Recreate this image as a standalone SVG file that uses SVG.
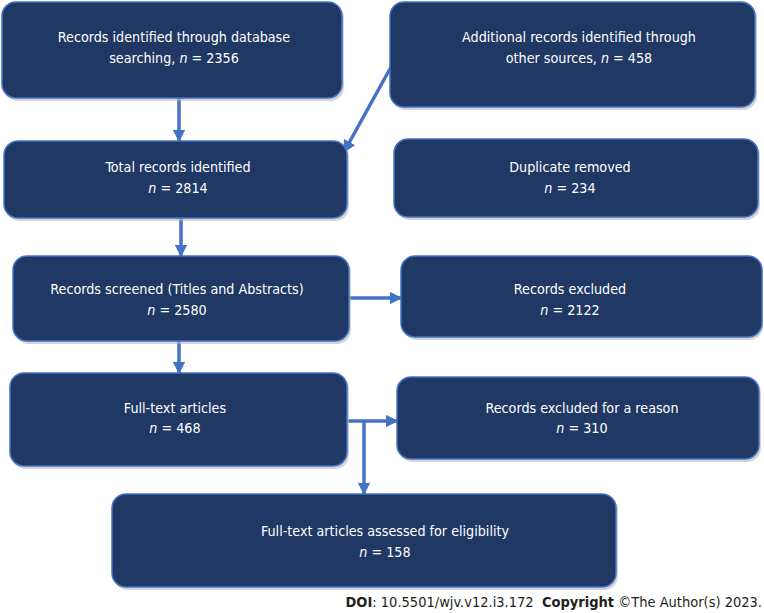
<svg xmlns="http://www.w3.org/2000/svg" width="764" height="613" viewBox="0 0 764 613">
<defs>
<style>
.box{fill:#203864;stroke:#4472C4;stroke-width:1.5}
.sh{fill:#b8b8b8;opacity:0.6}
.t{font-family:"DejaVu Sans Condensed","DejaVu Sans",sans-serif;font-size:14.2px;fill:#ffffff;text-anchor:middle}
.i{font-style:italic}
.c{stroke:#4472C4;stroke-width:3.5;fill:none}
.foot{font-family:"DejaVu Sans Condensed","DejaVu Sans",sans-serif;font-size:14.5px;fill:#231f20}
.b{font-weight:bold}
</style>
<marker id="ah" viewBox="0 0 10 10" refX="9" refY="5" markerWidth="3.6" markerHeight="3.6" orient="auto" markerUnits="strokeWidth">
<path d="M0,0 L10,5 L0,10 z" fill="#4472C4"/>
</marker>
</defs>
<rect width="764" height="613" fill="#ffffff"/>
<g id="connectors">
<line class="c" x1="179" y1="98" x2="179" y2="141" marker-end="url(#ah)"/>
<line class="c" x1="391" y1="67" x2="344" y2="152" marker-end="url(#ah)"/>
<line class="c" x1="181" y1="218" x2="181" y2="256" marker-end="url(#ah)"/>
<line class="c" x1="349" y1="298" x2="401" y2="298" marker-end="url(#ah)"/>
<line class="c" x1="179" y1="341" x2="179" y2="373" marker-end="url(#ah)"/>
<line class="c" x1="347" y1="421" x2="397" y2="421" marker-end="url(#ah)"/>
<line class="c" x1="364" y1="421" x2="364" y2="494" marker-end="url(#ah)"/>
</g>
<g id="n1">
<rect class="sh" x="4" y="4" width="340" height="97" rx="14"/>
<rect class="box" x="2" y="2" width="340" height="96" rx="14"/>
<text class="t" x="174" y="42">Records identified through database</text>
<text class="t" x="174" y="63">searching, <tspan class="i">n</tspan> = 2356</text>
</g>
<g id="n2">
<rect class="sh" x="392" y="4" width="365" height="106" rx="14"/>
<rect class="box" x="390" y="2" width="365" height="105" rx="14"/>
<text class="t" x="579" y="42">Additional records identified through</text>
<text class="t" x="579" y="63">other sources, <tspan class="i">n</tspan> = 458</text>
</g>
<g id="n3">
<rect class="sh" x="6" y="143" width="343" height="78" rx="14"/>
<rect class="box" x="4" y="141" width="343" height="77" rx="14"/>
<text class="t" x="178" y="172">Total records identified</text>
<text class="t" x="178" y="193"><tspan class="i">n</tspan> = 2814</text>
</g>
<g id="n4">
<rect class="sh" x="396" y="141" width="364" height="79" rx="14"/>
<rect class="box" x="394" y="139" width="364" height="78" rx="14"/>
<text class="t" x="570" y="172">Duplicate removed</text>
<text class="t" x="570" y="193"><tspan class="i">n</tspan> = 234</text>
</g>
<g id="n5">
<rect class="sh" x="15" y="258" width="336" height="86" rx="14"/>
<rect class="box" x="13" y="256" width="336" height="85" rx="14"/>
<text class="t" x="177" y="294">Records screened (Titles and Abstracts)</text>
<text class="t" x="177" y="315"><tspan class="i">n</tspan> = 2580</text>
</g>
<g id="n6">
<rect class="sh" x="403" y="258" width="360" height="82" rx="14"/>
<rect class="box" x="401" y="256" width="361" height="81" rx="14"/>
<text class="t" x="570" y="294">Records excluded</text>
<text class="t" x="570" y="315"><tspan class="i">n</tspan> = 2122</text>
</g>
<g id="n7">
<rect class="sh" x="12" y="375" width="337" height="94" rx="14"/>
<rect class="box" x="10" y="373" width="337" height="93" rx="14"/>
<text class="t" x="175" y="413">Full-text articles</text>
<text class="t" x="175" y="433"><tspan class="i">n</tspan> = 468</text>
</g>
<g id="n8">
<rect class="sh" x="399" y="379" width="362" height="83" rx="14"/>
<rect class="box" x="397" y="377" width="362" height="82" rx="14"/>
<text class="t" x="582" y="413">Records excluded for a reason</text>
<text class="t" x="582" y="433"><tspan class="i">n</tspan> = 310</text>
</g>
<g id="n9">
<rect class="sh" x="114" y="496" width="504" height="94" rx="14"/>
<rect class="box" x="112" y="494" width="504" height="93" rx="14"/>
<text class="t" x="385" y="536">Full-text articles assessed for eligibility</text>
<text class="t" x="385" y="557"><tspan class="i">n</tspan> = 158</text>
</g>
<text class="foot" x="762" y="607" text-anchor="end" xml:space="preserve"><tspan class="b">DOI</tspan>: 10.5501/wjv.v12.i3.172  <tspan class="b">Copyright</tspan> ©The Author(s) 2023.</text>
</svg>
